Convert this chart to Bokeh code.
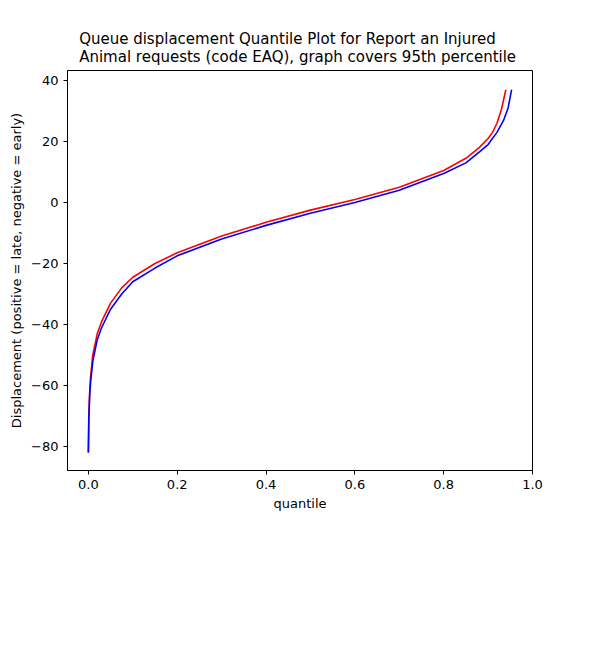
from bokeh.plotting import figure
from bokeh.models import Legend, LegendItem, FixedTicker, Title, Range1d, PrintfTickFormatter
from bokeh.embed import file_html
from bokeh.resources import INLINE

# quantile curves
north_q = [0.0, 0.001, 0.003, 0.005, 0.01, 0.02, 0.03, 0.05, 0.075, 0.1, 0.15, 0.2, 0.3, 0.4,
           0.5, 0.6, 0.7, 0.8, 0.85, 0.88, 0.9, 0.91, 0.92, 0.93, 0.94]
north_d = [-82, -70, -62, -57, -50, -43, -39, -33, -28, -24.5, -20, -16.5, -11, -6.5,
           -2.5, 1, 5, 10.5, 14.5, 18, 21, 23, 26, 30.5, 37]
south_q = [0.0, 0.001, 0.003, 0.005, 0.01, 0.02, 0.03, 0.05, 0.075, 0.1, 0.15, 0.2, 0.3, 0.4,
           0.5, 0.6, 0.7, 0.8, 0.85, 0.88, 0.9, 0.92, 0.935, 0.945, 0.953]
south_d = [-82, -71, -63, -59, -52, -45, -41, -35, -30, -26, -21.5, -17.5, -12, -7.5,
           -3.5, 0, 4, 9.5, 13, 16.5, 19, 23, 27, 31, 37]
labels = ["North (n = 8306.2812)", "South (n = 8124.7188)"]

FONT = "DejaVu Sans"

p = figure(width=590, height=630, output_backend="svg", toolbar_location=None,
           x_range=Range1d(-0.047, 1.0), y_range=Range1d(-87.9, 43.3),
           min_border_left=67, min_border_right=58, min_border_top=70, min_border_bottom=160,
           x_axis_label="quantile",
           y_axis_label="Displacement (positive = late, negative = early)")
p.add_layout(Title(text="Queue displacement Quantile Plot for Report an Injured\nAnimal  requests (code EAQ), graph covers 95th percentile",
                   align="center", text_font=FONT, text_font_size="15px",
                   text_font_style="normal", text_color="black"), "above")

p.grid.grid_line_color = None
p.outline_line_color = "black"
p.xaxis.ticker = FixedTicker(ticks=[0, 0.2, 0.4, 0.6, 0.8, 1.0])
p.xaxis.formatter = PrintfTickFormatter(format="%.1f")
p.yaxis.ticker = FixedTicker(ticks=[-80, -60, -40, -20, 0, 20, 40])
p.axis.minor_tick_line_color = None
p.axis.major_tick_in = 0
p.axis.major_tick_out = 4
p.axis.major_label_text_font = FONT
p.axis.major_label_text_font_size = "13px"
p.axis.major_label_text_color = "black"
p.axis.axis_label_text_font = FONT
p.axis.axis_label_text_font_size = "13px"
p.axis.axis_label_text_font_style = "normal"
p.axis.axis_label_text_color = "black"
p.axis.axis_label_standoff = 4

r1 = p.line(north_q, north_d, line_color="red", line_width=1.6)
r2 = p.line(south_q, south_d, line_color="blue", line_width=1.6)

legend = Legend(items=[LegendItem(label=labels[0], renderers=[r1]),
                       LegendItem(label=labels[1], renderers=[r2])],
                location=(128, -94), label_text_font=FONT, label_text_font_size="13px",
                label_text_color="black",
                border_line_color="#999999", spacing=2, padding=5, margin=0,
                glyph_width=28, label_height=18)
p.add_layout(legend, "center")

open("out.html", "w").write(file_html(p, INLINE))
